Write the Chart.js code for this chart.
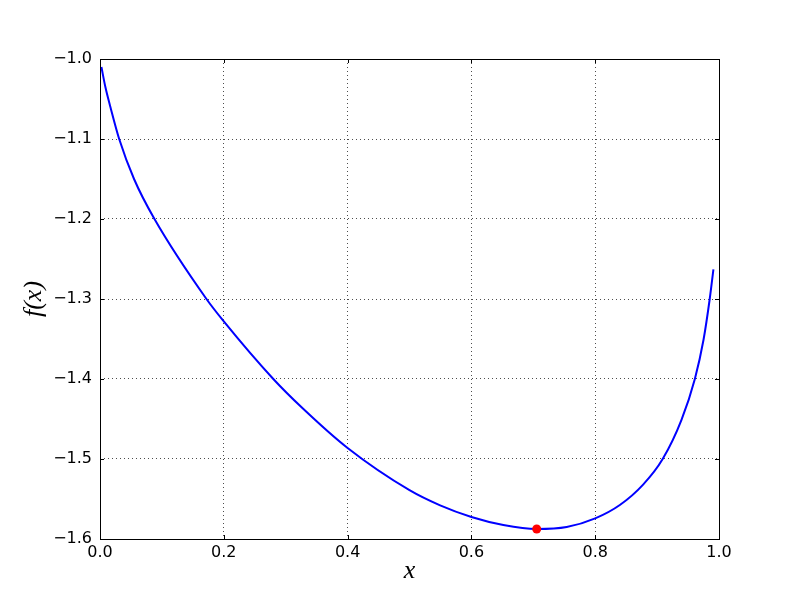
<!DOCTYPE html>
<html>
<head>
<meta charset="utf-8">
<script src="https://cdn.jsdelivr.net/npm/chart.js@4"></script>
<style>
  html, body { margin: 0; padding: 0; background: #fff; }
  canvas { display: block; }
</style>
</head>
<body>
<canvas id="fxChart" width="800" height="600"></canvas>
<script>
// values
const xValues = [0.0023, 0.0087, 0.0168, 0.031, 0.055, 0.088, 0.172, 0.200, 0.280, 0.3265, 0.400, 0.500, 0.5495, 0.600, 0.6516, 0.7055, 0.754, 0.800, 0.8398, 0.8774, 0.909, 0.9394, 0.961, 0.975, 0.985, 0.991];
const yValues = [-1.010, -1.035, -1.060, -1.100, -1.150, -1.200, -1.300, -1.328, -1.400, -1.436, -1.4863, -1.539, -1.558, -1.5725, -1.5825, -1.5875, -1.585, -1.5742, -1.5575, -1.532, -1.500, -1.451, -1.400, -1.351, -1.300, -1.263];

// the minimum marker
const minX = [0.7055];
const minY = [-1.5875];

const xTicks = [0.0, 0.2, 0.4, 0.6, 0.8, 1.0];
const yTicks = [-1.6, -1.5, -1.4, -1.3, -1.2, -1.1, -1.0];

const curvePoints = xValues.map((x, i) => ({ x: x, y: yValues[i] }));
const minPoints = minX.map((x, i) => ({ x: x, y: minY[i] }));

const fmt = (v) => v.toFixed(1).replace('-', '\u2212');

// frame + inward ticks on all four sides (matplotlib classic look)
const frameTicks = {
  id: 'frameTicks',
  afterDraw(chart) {
    const { ctx, chartArea: a, scales } = chart;
    ctx.save();
    ctx.strokeStyle = '#000';
    ctx.lineWidth = 1;
    ctx.beginPath();
    xTicks.forEach((v) => {
      const px = Math.round(scales.x.getPixelForValue(v)) + 0.5;
      ctx.moveTo(px, a.bottom); ctx.lineTo(px, a.bottom - 4);
      ctx.moveTo(px, a.top); ctx.lineTo(px, a.top + 4);
    });
    yTicks.forEach((v) => {
      const py = Math.round(scales.y.getPixelForValue(v)) + 0.5;
      ctx.moveTo(a.left, py); ctx.lineTo(a.left + 4, py);
      ctx.moveTo(a.right, py); ctx.lineTo(a.right - 4, py);
    });
    ctx.stroke();
    ctx.strokeRect(Math.round(a.left) + 0.5, Math.round(a.top) + 0.5,
      Math.round(a.right - a.left), Math.round(a.bottom - a.top));
    ctx.restore();
  },
};

const tickFont = { family: 'DejaVu Sans', size: 16 };
const titleFont = { family: 'Liberation Serif', size: 26, style: 'italic' };

new Chart(document.getElementById('fxChart'), {
  type: 'line',
  data: {
    datasets: [
      {
        data: minPoints,
        showLine: false,
        pointRadius: 4.5,
        pointBackgroundColor: '#ff0000',
        pointBorderWidth: 0,
        order: 0,
      },
      {
        data: curvePoints,
        borderColor: '#0000ff',
        borderWidth: 2,
        pointRadius: 0,
        cubicInterpolationMode: 'monotone',
        fill: false,
        order: 1,
      },
    ],
  },
  options: {
    responsive: false,
    animation: false,
    layout: { padding: { top: 59, right: 81, left: 0, bottom: 0 } },
    plugins: { legend: { display: false }, tooltip: { enabled: false } },
    scales: {
      x: {
        type: 'linear',
        min: 0,
        max: 1,
        afterFit: (s) => { s.height = 61; },
        afterBuildTicks: (s) => { s.ticks = xTicks.map((v) => ({ value: v })); },
        ticks: {
          font: tickFont,
          color: '#000',
          padding: 4,
          autoSkip: false,
          maxRotation: 0,
          callback: (v) => fmt(v),
        },
        grid: { color: '#000', lineWidth: 0.7, drawTicks: false },
        border: { display: false, dash: [1, 3] },
        title: {
          display: true,
          text: 'x',
          font: titleFont,
          color: '#000',
          padding: { top: 0, bottom: 13 },
        },
      },
      y: {
        type: 'linear',
        min: -1.6,
        max: -1.0,
        afterFit: (s) => { s.width = 100; },
        afterBuildTicks: (s) => { s.ticks = yTicks.map((v) => ({ value: v })); },
        ticks: {
          font: tickFont,
          color: '#000',
          padding: 8,
          autoSkip: false,
          callback: (v) => fmt(v),
        },
        grid: { color: '#000', lineWidth: 0.7, drawTicks: false },
        border: { display: false, dash: [1, 3] },
        title: {
          display: true,
          text: 'f(x)',
          font: titleFont,
          color: '#000',
          padding: { top: 19, bottom: 0 },
        },
      },
    },
  },
  plugins: [frameTicks],
});
</script>
</body>
</html>
